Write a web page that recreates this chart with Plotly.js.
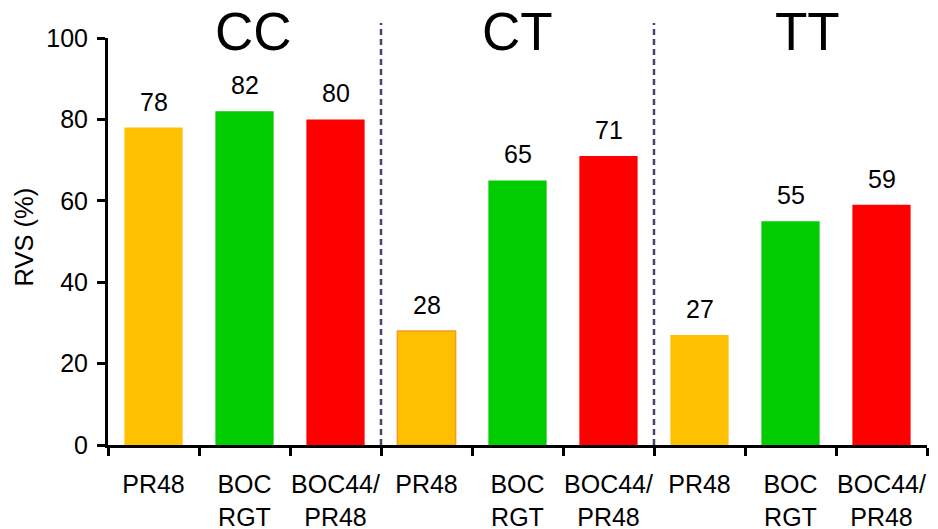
<!DOCTYPE html>
<html>
<head>
<meta charset="utf-8">
<script src="https://cdn.plot.ly/plotly-3.0.1.min.js"></script>
<style>
  html, body { margin: 0; padding: 0; background: #ffffff; }
  #chart { width: 938px; height: 529px; }
</style>
</head>
<body>
<div id="chart"></div>
<script>
// Genotype groups and treatment regimens
const genotypes = ["CC", "CT", "TT"];
const regimens = ["PR48", "BOC<br>RGT", "BOC44/<br>PR48"];

// RVS (%) per regimen, one array per genotype
const rvsCC = [78, 82, 80];
const rvsCT = [28, 65, 71];
const rvsTT = [27, 55, 59];

const yTicks = [0, 20, 40, 60, 80, 100];

const regimenColors = ["#FFC000", "#00CC00", "#FF0000"];
const FONT = "Arial, 'Liberation Sans', sans-serif";

// Flatten groups into one run of bars
const groups = [rvsCC, rvsCT, rvsTT];
const xs = [], ys = [], labels = [], fills = [], outlines = [], outlineW = [];
groups.forEach((vals, g) => {
  vals.forEach((v, r) => {
    xs.push(g * regimens.length + r);
    ys.push(v);
    labels.push(regimens[r]);
    fills.push(regimenColors[r]);
    // the CT PR48 bar carries a thin orange outline
    const outlined = (g === 1 && r === 0);
    outlines.push(outlined ? "#F39A1E" : regimenColors[r]);
    outlineW.push(outlined ? 1.5 : 0);
  });
});
const nCat = xs.length;
const boundaries = [];
for (let i = 0; i <= nCat; i++) boundaries.push(i - 0.5);

const bars = {
  type: "bar",
  x: xs,
  y: ys,
  marker: { color: fills, line: { color: outlines, width: outlineW } },
  width: 0.64,
  hoverinfo: "x+y",
  showlegend: false
};

// invisible carrier so the label axis is drawn
const labelCarrier = {
  type: "scatter",
  mode: "markers",
  x: xs,
  y: ys,
  xaxis: "x2",
  marker: { opacity: 0 },
  hoverinfo: "skip",
  showlegend: false
};

// value labels above bars
const valueNotes = xs.map((x, i) => ({
  x: x, y: ys[i], xref: "x", yref: "y",
  text: String(ys[i]),
  showarrow: false,
  yanchor: "bottom",
  yshift: 10,
  font: { family: FONT, size: 25, color: "#000" }
}));

// genotype headings
const headingShift = [9, 0, 17];
const headingNotes = genotypes.map((g, i) => ({
  x: i * regimens.length + 1, y: 1.0925, xref: "x", yref: "paper",
  text: g,
  showarrow: false,
  yanchor: "top",
  xshift: headingShift[i],
  font: { family: FONT, size: 53, color: "#000" }
}));

// y-axis title
const yTitleNote = {
  x: -0.102, y: 0.511, xref: "paper", yref: "paper",
  text: "RVS (%)",
  textangle: -90,
  showarrow: false,
  xanchor: "center", yanchor: "middle",
  font: { family: FONT, size: 25.5, color: "#000" }
};

// dashed separators between genotype groups
const separators = [];
for (let g = 1; g < genotypes.length; g++) {
  const xb = g * regimens.length - 0.5;
  separators.push({
    type: "line", xref: "x", yref: "paper",
    x0: xb, x1: xb, y0: 0, y1: 1.037,
    line: { color: "#4B3F72", width: 2.5, dash: "6px,4px" }
  });
}

const layout = {
  width: 938,
  height: 529,
  margin: { l: 108, r: 11, t: 38, b: 84, pad: 0 },
  paper_bgcolor: "#ffffff",
  plot_bgcolor: "#ffffff",
  font: { family: FONT, color: "#000" },
  xaxis: {
    range: [-0.5, nCat - 0.5],
    tickmode: "array",
    tickvals: boundaries,
    ticktext: boundaries.map(() => ""),
    ticks: "outside",
    ticklen: 8,
    tickwidth: 3,
    tickcolor: "#000",
    showline: true,
    linewidth: 3,
    linecolor: "#000",
    showgrid: false,
    zeroline: false,
    fixedrange: true
  },
  xaxis2: {
    overlaying: "x",
    anchor: "y",
    side: "bottom",
    range: [-0.5, nCat - 0.5],
    tickmode: "array",
    tickvals: xs,
    ticktext: labels,
    ticks: "",
    showline: false,
    showgrid: false,
    zeroline: false,
    ticklabelstandoff: 22,
    tickfont: { family: FONT, size: 25, color: "#000" },
    fixedrange: true
  },
  yaxis: {
    range: [0, 100],
    tickmode: "array",
    tickvals: yTicks,
    ticks: "outside",
    ticklen: 8,
    tickwidth: 3,
    tickcolor: "#000",
    showline: true,
    linewidth: 3,
    linecolor: "#000",
    showgrid: false,
    zeroline: false,
    ticklabelstandoff: 4,
    tickfont: { family: FONT, size: 25, color: "#000" },
    fixedrange: true
  },
  bargap: 0.36,
  shapes: separators,
  annotations: valueNotes.concat(headingNotes, [yTitleNote])
};

Plotly.newPlot("chart", [bars, labelCarrier], layout, { displayModeBar: false, staticPlot: true });
</script>
</body>
</html>
